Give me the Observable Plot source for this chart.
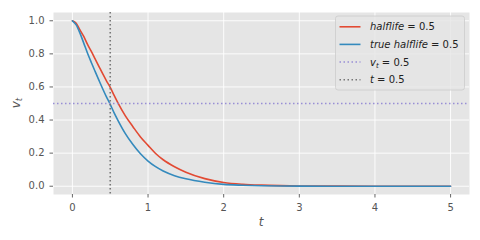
<!DOCTYPE html>
<html><head><meta charset="utf-8">
<script src="https://cdn.jsdelivr.net/npm/d3@7"></script>
<script src="https://cdn.jsdelivr.net/npm/@observablehq/plot@0.6"></script>
<style>
body{margin:0;background:#fff;}
#chart svg{display:block;}
</style>
</head><body><div id="chart"></div>
<script>
const tValues = [0, 0.05, 0.1, 0.15, 0.2, 0.25, 0.3, 0.35, 0.4, 0.45, 0.5, 0.55, 0.6, 0.7, 0.8, 0.9, 1.0, 1.1, 1.2, 1.35, 1.5, 1.75, 2.0, 2.25, 2.5, 2.75, 3.0, 3.5, 4.0, 4.5, 5.0];
const halflifeValues = [1.0, 0.985, 0.945, 0.905, 0.857, 0.815, 0.77, 0.725, 0.68, 0.637, 0.598, 0.55, 0.505, 0.425, 0.36, 0.298, 0.247, 0.198, 0.16, 0.118, 0.085, 0.046, 0.023, 0.012, 0.0065, 0.0035, 0.0017, 0.0004, 0.0001, 0, 0];
const trueHalflifeValues = [1.0, 0.975, 0.925, 0.865, 0.804, 0.748, 0.694, 0.641, 0.589, 0.54, 0.495, 0.445, 0.40, 0.318, 0.252, 0.196, 0.152, 0.118, 0.092, 0.064, 0.045, 0.024, 0.011, 0.006, 0.003, 0.0015, 0.0008, 0.0002, 0, 0, 0];
const xTicks = [0, 1, 2, 3, 4, 5];
const yTicks = [0.0, 0.2, 0.4, 0.6, 0.8, 1.0];
const vLevel = [0.5];
const tLevel = [0.5];
const colors = {halflife: "#E24A33", trueHalflife: "#348ABD", vLine: "#988ED5", tLine: "#777777"};

const halfRows = tValues.map((t, i) => ({t, v: halflifeValues[i]}));
const trueRows = tValues.map((t, i) => ({t, v: trueHalflifeValues[i]}));

const dots = "1.5,2.5";
const chart = Plot.plot({
  width: 480, height: 240,
  marginLeft: 53, marginRight: 11, marginTop: 12, marginBottom: 46,
  style: {fontFamily: "'DejaVu Sans', sans-serif", fontSize: "10px", background: "#fff", overflow: "visible"},
  x: {domain: [-0.25, 5.25]},
  y: {domain: [-0.05, 1.05]},
  marks: [
    Plot.frame({fill: "#E5E5E5", stroke: null}),
    Plot.gridX(xTicks, {stroke: "#fff", strokeOpacity: 1, strokeWidth: 0.9}),
    Plot.gridY(yTicks, {stroke: "#fff", strokeOpacity: 1, strokeWidth: 0.9}),
    Plot.axisX(xTicks, {tickSize: 3.5, tickPadding: 5.5, stroke: "#555", fill: "#555", strokeWidth: 0.9, tickFormat: d => String(d), label: null}),
    Plot.axisY(yTicks, {tickSize: 3.5, tickPadding: 5.5, stroke: "#555", fill: "#555", strokeWidth: 0.9, tickFormat: d => d.toFixed(1), label: null}),
    Plot.line(halfRows, {x: "t", y: "v", stroke: colors.halflife, strokeWidth: 1.6, curve: "monotone-x"}),
    Plot.line(trueRows, {x: "t", y: "v", stroke: colors.trueHalflife, strokeWidth: 1.6, curve: "monotone-x"}),
    Plot.ruleY(vLevel, {stroke: colors.vLine, strokeWidth: 1.6, strokeDasharray: dots}),
    Plot.ruleX(tLevel, {stroke: colors.tLine, strokeWidth: 1.6, strokeDasharray: dots})
  ]
});
document.getElementById("chart").appendChild(chart);

const svg = d3.select(chart);
const xs = chart.scale("x"), ys = chart.scale("y");
const cx = (xs.range[0] + xs.range[1]) / 2;
const cy = (ys.range[0] + ys.range[1]) / 2;

// axis labels
svg.append("text").attr("x", cx).attr("y", 226).attr("text-anchor", "middle")
  .attr("fill", "#555").style("font-size", "12px").style("font-style", "italic").text("t");
const yl = svg.append("text").attr("transform", `translate(19.5,${cy}) rotate(-90)`).attr("text-anchor", "middle")
  .attr("fill", "#555").style("font-size", "12px");
yl.append("tspan").style("font-style", "italic").text("v");
yl.append("tspan").style("font-style", "italic").style("font-size", "8.5px").attr("dy", 2.5).text("t");

// legend
const lg = svg.append("g").attr("text-anchor", "start");
lg.append("rect").attr("x", 335.5).attr("y", 16).attr("width", 129).attr("height", 74).attr("rx", 2.5)
  .attr("fill", "#E5E5E5").attr("fill-opacity", 0.8).attr("stroke", "#cccccc").attr("stroke-width", 0.8);
const rows = [
  {y: 26.8, color: colors.halflife, dash: null, parts: [["halflife", true], [" = 0.5", false]]},
  {y: 44.4, color: colors.trueHalflife, dash: null, parts: [["true halflife", true], [" = 0.5", false]]},
  {y: 62.0, color: colors.vLine, dash: dots, parts: [["v", true], ["t", true, "sub"], [" = 0.5", false]]},
  {y: 79.8, color: colors.tLine, dash: dots, parts: [["t", true], [" = 0.5", false]]}
];
rows.forEach(r => {
  lg.append("line").attr("x1", 339.5).attr("x2", 360.5).attr("y1", r.y).attr("y2", r.y)
    .attr("stroke", r.color).attr("stroke-width", 1.6).attr("stroke-dasharray", r.dash);
  const tx = lg.append("text").attr("x", 370).attr("y", r.y + 3.6).attr("text-anchor", "start")
    .attr("fill", "#222").style("font-size", "10px").attr("xml:space", "preserve");
  let sub = false;
  r.parts.forEach(p => {
    const ts = tx.append("tspan").text(p[0]);
    if (p[1]) ts.style("font-style", "italic");
    if (p[2] === "sub") { ts.style("font-size", "7px").attr("dy", 2); sub = true; }
    else if (sub) { ts.attr("dy", -2); sub = false; }
  });
});
</script>
</body></html>
